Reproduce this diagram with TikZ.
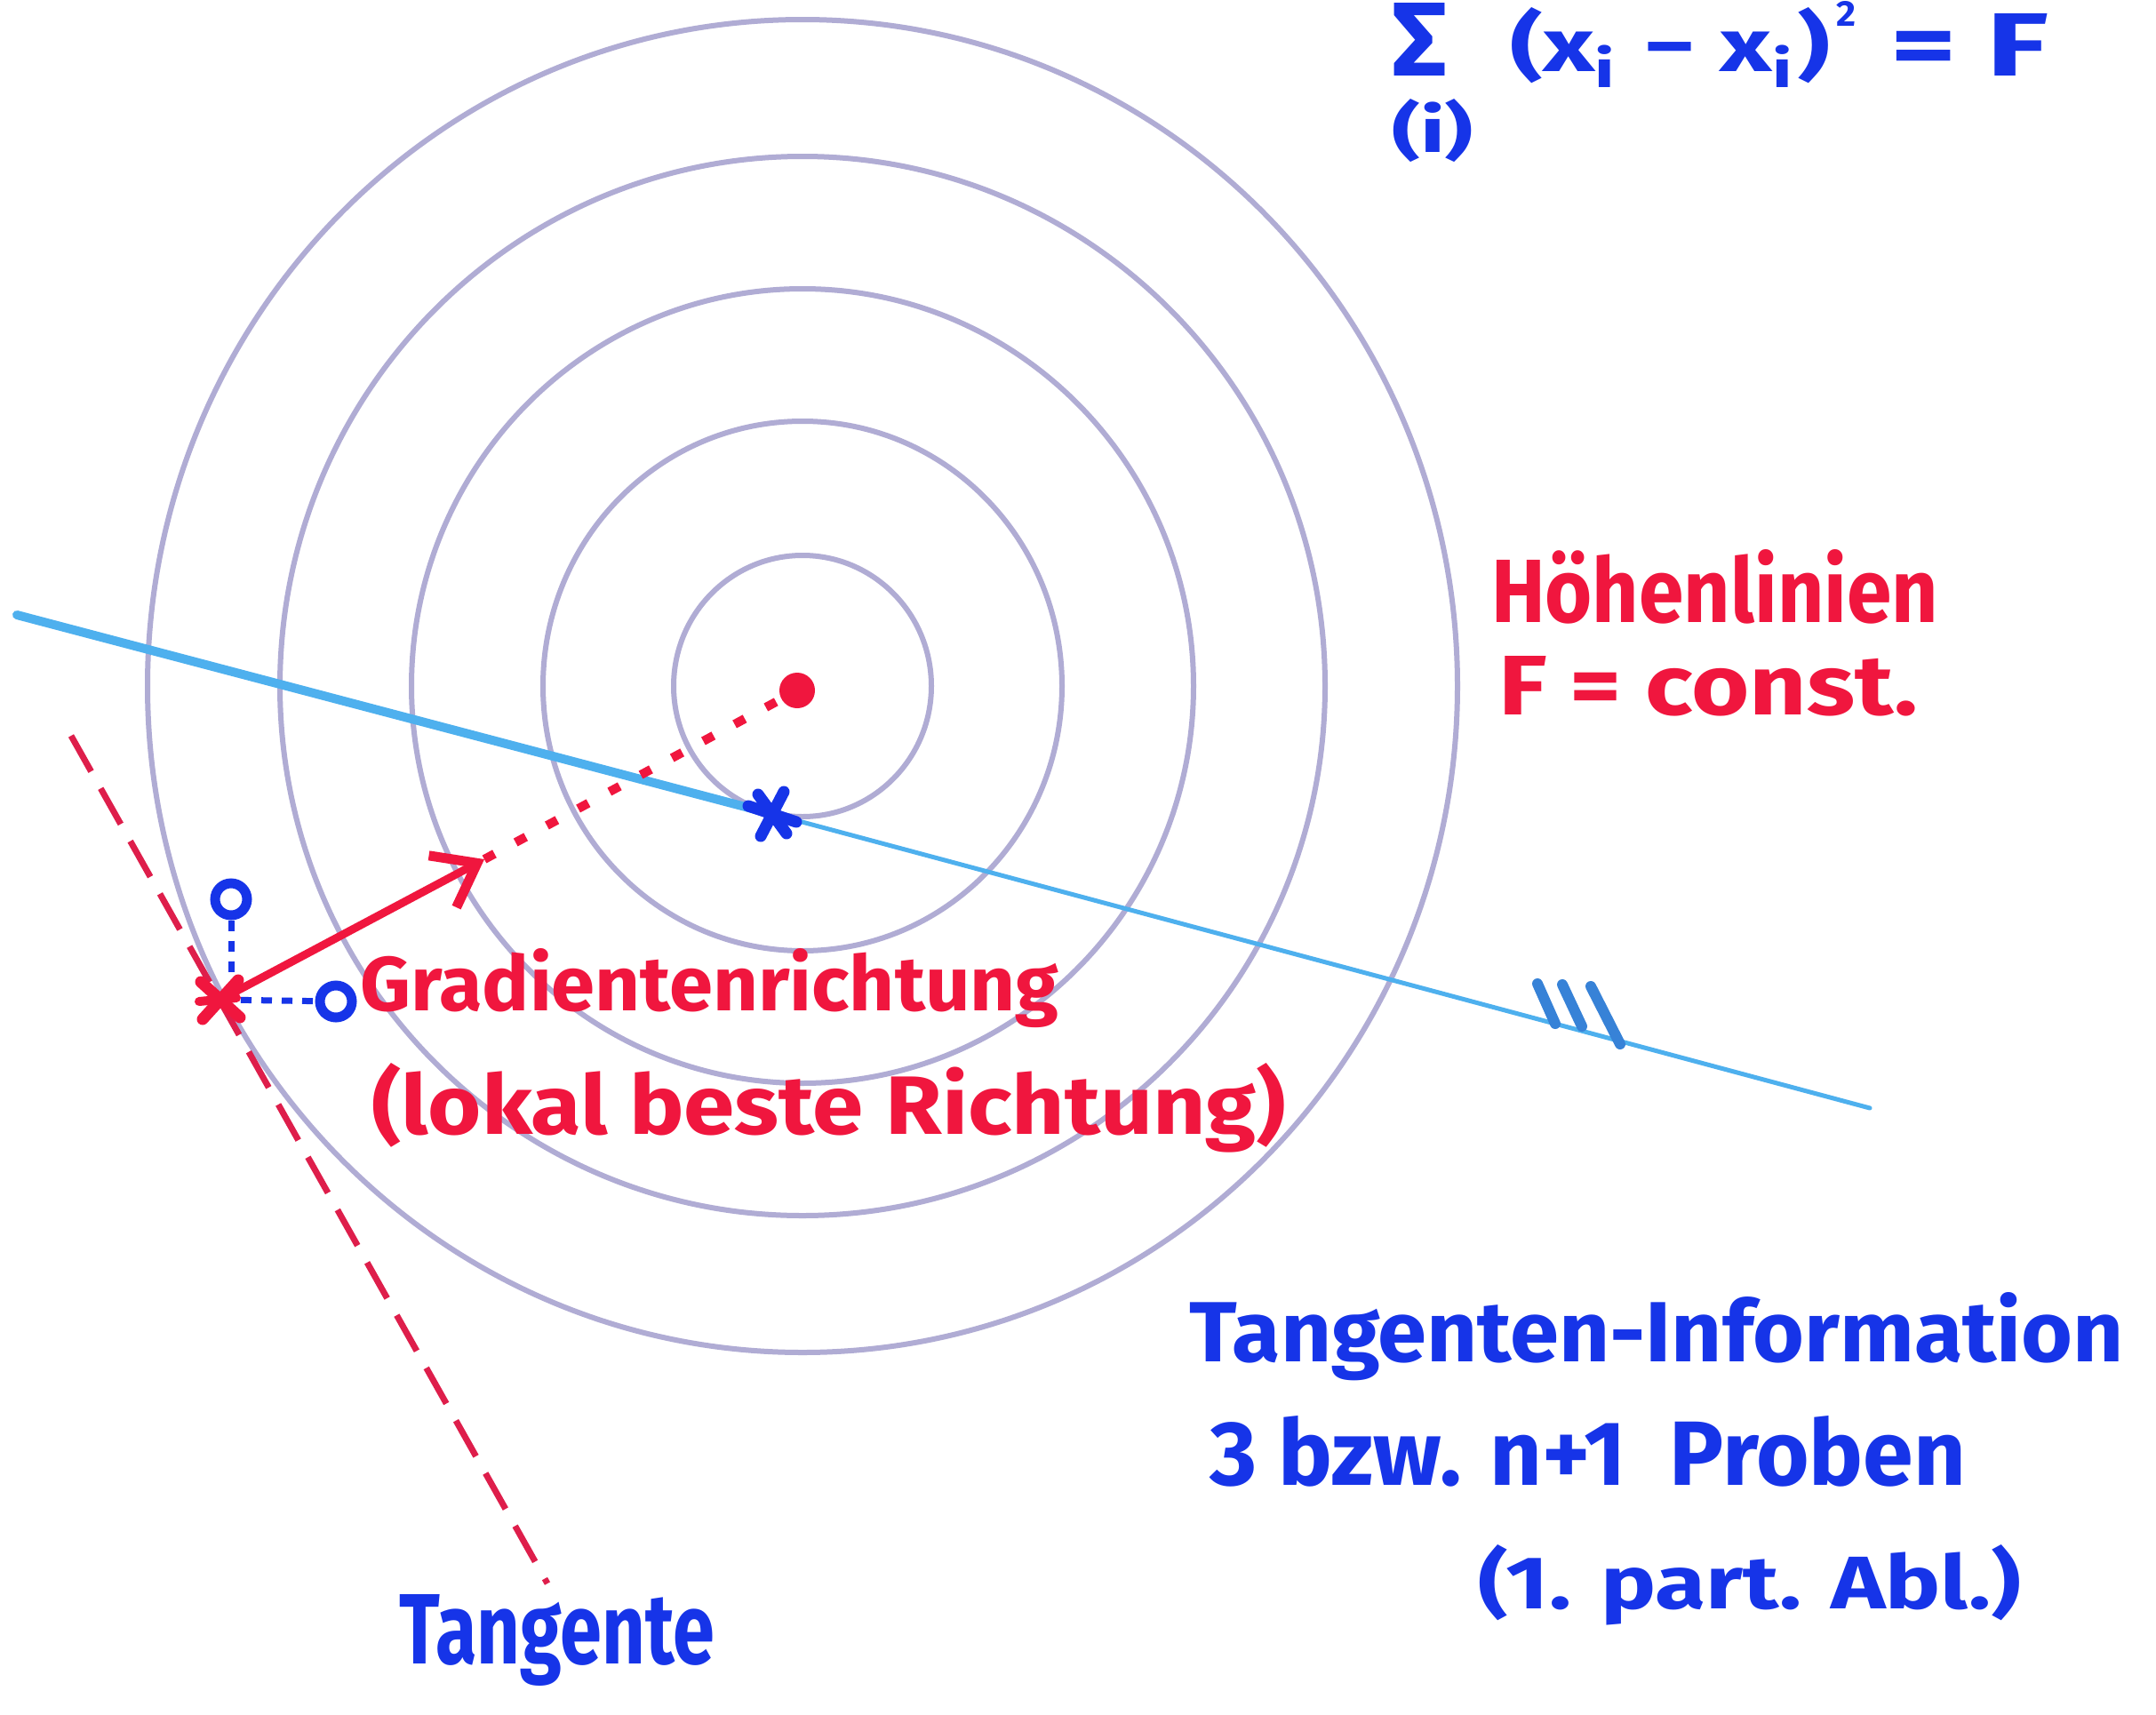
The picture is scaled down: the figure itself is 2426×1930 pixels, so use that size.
\documentclass[tikz,border=0pt]{standalone}
\usepackage{fontspec}
\setmainfont{Fira Sans}
\usetikzlibrary{arrows.meta}
\definecolor{hred}{RGB}{240,22,62}
\definecolor{hblue}{RGB}{22,52,232}
\definecolor{lblue}{RGB}{78,176,238}
\definecolor{tickc}{RGB}{55,130,215}
\definecolor{ringc}{RGB}{176,172,212}
\definecolor{tanc}{RGB}{222,30,75}
\newcommand{\hwt}[3]{\resizebox{#1}{#2}{#3}}
\begin{document}
\begin{tikzpicture}[x=1pt,y=-1pt,
  ringline/.style={draw=ringc, line width=6pt},
  lbl/.style={inner sep=0pt, outer sep=0pt, anchor=base west, font=\bfseries},
  redtxt/.style={lbl, text=hred},
  bluetxt/.style={lbl, text=hblue},
  bluedots/.style={draw=hblue, line width=7pt, dash pattern=on 12pt off 11pt},
  reddots/.style={draw=hred, line width=10pt, dash pattern=on 13pt off 27pt},
  tandash/.style={draw=tanc, line width=7pt, dash pattern=on 46pt off 22pt},
  ticks/.style={draw=tickc, line width=12pt, line cap=round},
  starline/.style={line width=13pt, line cap=round},
  probe/.style={circle, draw=hblue, line width=11pt, minimum size=36pt, inner sep=0pt}]
\useasboundingbox (0,0) rectangle (2426,1930);
\fill[white] (0,0) rectangle (2426,1930);

% contour lines
\coordinate (c0) at (903,772);
\foreach \rx/\ry in {145/147,292/298,440/447,588/596,737/750}
  \draw[ringline] (c0) ellipse [x radius=\rx pt, y radius=\ry pt];

% blue search line
\coordinate (L0) at (19,692);
\coordinate (bstar) at (869,916);
\coordinate (L1) at (2104,1247);
\draw[lblue, line width=10pt, line cap=round] (L0) -- (bstar);
\draw[lblue, line width=5pt, line cap=round] (bstar) -- (L1);
\coordinate (k1a) at (1730,1107); \coordinate (k1b) at (1750,1152);
\coordinate (k2a) at (1758,1108); \coordinate (k2b) at (1780,1155);
\coordinate (k3a) at (1790,1110); \coordinate (k3b) at (1823,1175);
\draw[ticks] (k1a) -- (k1b);
\draw[ticks] (k2a) -- (k2b);
\draw[ticks] (k3a) -- (k3b);

% blue star
\draw[hblue, starline] ([shift={(-27,-9)}]bstar) -- ([shift={(27,9)}]bstar);
\draw[hblue, starline] ([shift={(-13,25)}]bstar) -- ([shift={(13,-25)}]bstar);
\draw[hblue, starline] ([shift={(-16,-22)}]bstar) -- ([shift={(16,22)}]bstar);

% minimum
\node[circle, fill=hred, minimum size=40pt, inner sep=0pt] (mindot) at (897,777) {};

% tangent
\coordinate (T0) at (80,828);
\coordinate (T1) at (616,1782);
\draw[tandash] (T0) -- (T1);

% gradient arrow
\coordinate (rx) at (248,1125);
\coordinate (atip) at (545,967);
\draw[hred, line width=9pt, -{Straight Barb[length=44pt, width=66pt, line width=11pt]}] (rx) -- (atip);
\draw[reddots] (atip) -- (mindot);

% probe points
\node[probe] (ptop) at (260,1012) {};
\node[probe] (pright) at (378,1127) {};
\draw[bluedots] (ptop) -- (ptop |- rx);
\draw[bluedots] (rx) -- (pright);

% red X
\draw[hred, starline] ([shift={(-22,-20)}]rx) -- ([shift={(22,20)}]rx);
\draw[hred, starline] ([shift={(-20,22)}]rx) -- ([shift={(20,-22)}]rx);
\draw[hred, line width=10pt, line cap=round] ([shift={(-24,2)}]rx) -- ([shift={(18,-2)}]rx);

% formula
\node[bluetxt] (fsum) at (1566,85) {\hwt{62pt}{82pt}{Σ}};
\node[bluetxt] (fidx) at (1566,171) {\hwt{92pt}{60pt}{(i)}};
\node[bluetxt] (fbody) at (1699,80) {\hwt{360pt}{72pt}{(x\textsubscript{i} − x\textsubscript{i})}};
\node[bluetxt] (fsq) at (2066,30) {\hwt{22pt}{28pt}{2}};
\node[bluetxt] (frhs) at (2127,85) {\hwt{178pt}{70pt}{= F}};

% labels
\node[redtxt] (hoehen) at (1678,700) {\hwt{503pt}{82pt}{Höhenlinien}};
\node[redtxt] (fconst) at (1686,804) {\hwt{472pt}{66pt}{F = const.}};
\node[redtxt] (grad) at (405,1137) {\hwt{786pt}{70pt}{Gradientenrichtung}};
\node[redtxt] (lokal) at (418,1276) {\hwt{1029pt}{80pt}{(lokal beste Richtung)}};
\node[bluetxt] (taninfo) at (1338,1532) {\hwt{1052pt}{78pt}{Tangenten-Information}};
\node[bluetxt] (proben) at (1361,1671) {\hwt{851pt}{78pt}{3 bzw. n+1 \ Proben}};
\node[bluetxt] (abl) at (1663,1810) {\hwt{611pt}{72pt}{(1. part. Abl.)}};
\node[bluetxt] (tangente) at (449,1872) {\hwt{355pt}{78pt}{Tangente}};
\end{tikzpicture}
\end{document}
